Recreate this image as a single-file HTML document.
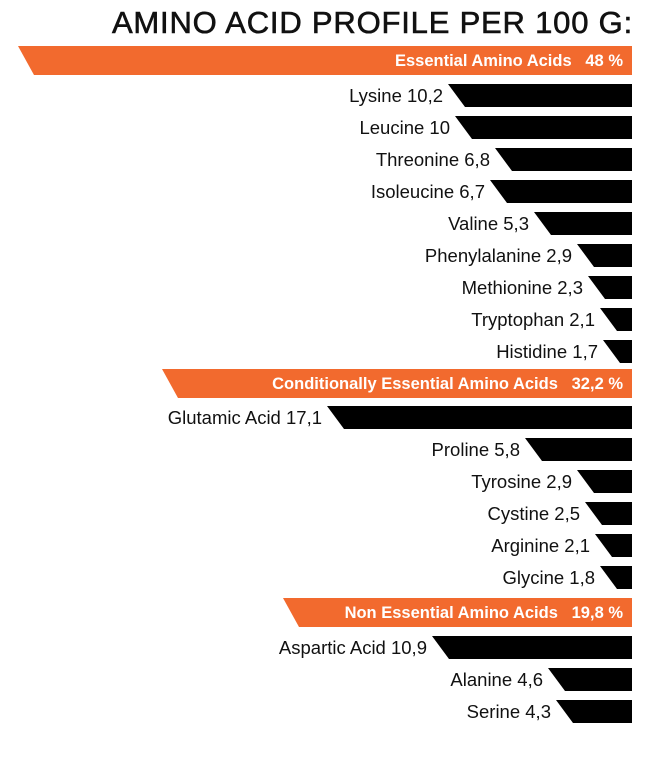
<!DOCTYPE html>
<html><head><style>
body{margin:0;width:647px;height:778px;background:#fff;position:relative;overflow:hidden;font-family:"Liberation Sans",sans-serif}
.t{position:absolute;right:14px;top:5px;font-size:31px;letter-spacing:0.8px;color:#111;-webkit-text-stroke:0.6px #111}
.o,.b{position:absolute;right:15px}
.o{background:#f26a2e;clip-path:polygon(0 0,100% 0,100% 100%,16px 100%)}
.o span{position:absolute;right:9px;top:6px;color:#fff;font-weight:bold;font-size:16.5px;white-space:nowrap}
.b{background:#000;height:23px;clip-path:polygon(0 0,100% 0,100% 100%,17px 100%)}
.l{position:absolute;font-size:18.5px;color:#111;white-space:nowrap;text-align:right}
</style></head><body>
<div class="t">AMINO ACID PROFILE PER 100 G:</div>
<div id="c"></div>
<script>
var rows=[
['o',46,18,'Essential Amino Acids&nbsp;&nbsp;&nbsp;48 %'],
['b',84,448,'Lysine 10,2'],['b',116,455,'Leucine 10'],['b',148,495,'Threonine 6,8'],['b',180,490,'Isoleucine 6,7'],['b',212,534,'Valine 5,3'],['b',244,577,'Phenylalanine 2,9'],['b',276,588,'Methionine 2,3'],['b',308,600,'Tryptophan 2,1'],['b',340,603,'Histidine 1,7'],
['o',369,162,'Conditionally Essential Amino Acids&nbsp;&nbsp;&nbsp;32,2 %'],
['b',406,327,'Glutamic Acid 17,1'],['b',438,525,'Proline 5,8'],['b',470,577,'Tyrosine 2,9'],['b',502,585,'Cystine 2,5'],['b',534,595,'Arginine 2,1'],['b',566,600,'Glycine 1,8'],
['o',598,283,'Non Essential Amino Acids&nbsp;&nbsp;&nbsp;19,8 %'],
['b',636,432,'Aspartic Acid 10,9'],['b',668,548,'Alanine 4,6'],['b',700,556,'Serine 4,3']];
var h='';
rows.forEach(function(r){
 if(r[0]=='o'){h+='<div class="o" style="top:'+r[1]+'px;left:'+r[2]+'px;height:29px"><span>'+r[3]+'</span></div>';}
 else{h+='<div class="b" style="top:'+r[1]+'px;left:'+r[2]+'px"></div><div class="l" style="top:'+(r[1]+1)+'px;right:'+(647-r[2]+5)+'px">'+r[3]+'</div>';}
});
document.getElementById('c').innerHTML=h;
</script>
</body></html>
